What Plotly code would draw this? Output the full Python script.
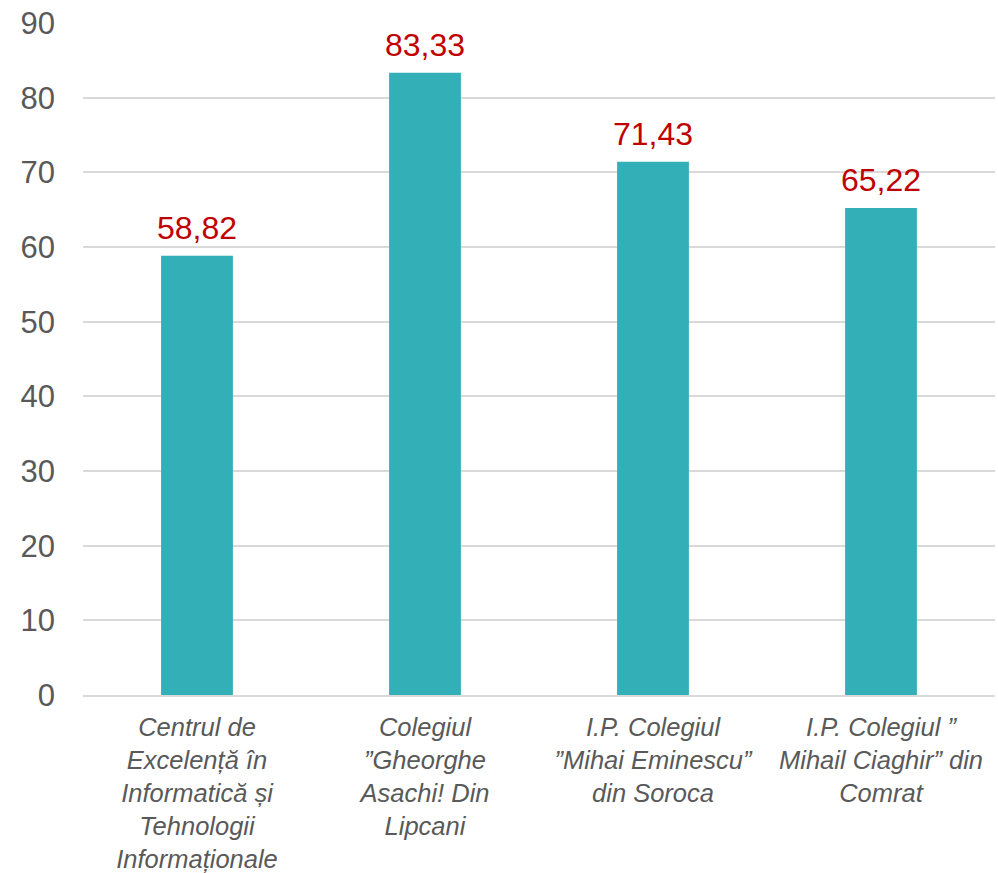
import plotly.graph_objects as go

categories = [
    "Centrul de<br>Excelență în<br>Informatică și<br>Tehnologii<br>Informaționale",
    "Colegiul<br>”Gheorghe<br>Asachi! Din<br>Lipcani",
    "I.P. Colegiul<br>”Mihai Eminescu”<br>din Soroca",
    "I.P. Colegiul ”<br>Mihail Ciaghir” din<br>Comrat",
]
values = [58.82, 83.33, 71.43, 65.22]
labels = ["58,82", "83,33", "71,43", "65,22"]
y_ticks = [0, 10, 20, 30, 40, 50, 60, 70, 80, 90]

fig = go.Figure(go.Bar(
    x=categories, y=values,
    marker=dict(color="#33AFB8", line=dict(width=0)),
    cliponaxis=False,
))

for c, v, t in zip(categories, values, labels):
    fig.add_annotation(
        x=c, y=v, text=t, showarrow=False, yanchor="bottom", yshift=8,
        font=dict(family="Liberation Sans, Arial", size=32, color="#C00000"),
    )

fig.update_layout(
    width=998, height=873,
    margin=dict(l=83, r=3, t=23, b=178),
    paper_bgcolor="white", plot_bgcolor="white",
    bargap=0.685,
    showlegend=False,
    xaxis=dict(
        showgrid=False, showline=True, linecolor="#d9d9d9", linewidth=2,
        tickfont=dict(family="Liberation Sans, Arial", size=25.5, color="#595959", style="italic"),
        ticks="", ticklabelstandoff=8, automargin=False,
    ),
    yaxis=dict(
        range=[0, 90], tickvals=y_ticks, showgrid=True, gridcolor="#d9d9d9", gridwidth=2,
        zeroline=False, showline=False,
        tickfont=dict(family="Liberation Sans, Arial", size=31, color="#595959"),
        ticks="", ticklabelstandoff=27, automargin=False,
    ),
)

fig.write_html("out.html", config={"displayModeBar": False},
               post_script="document.body.style.margin='0';")
